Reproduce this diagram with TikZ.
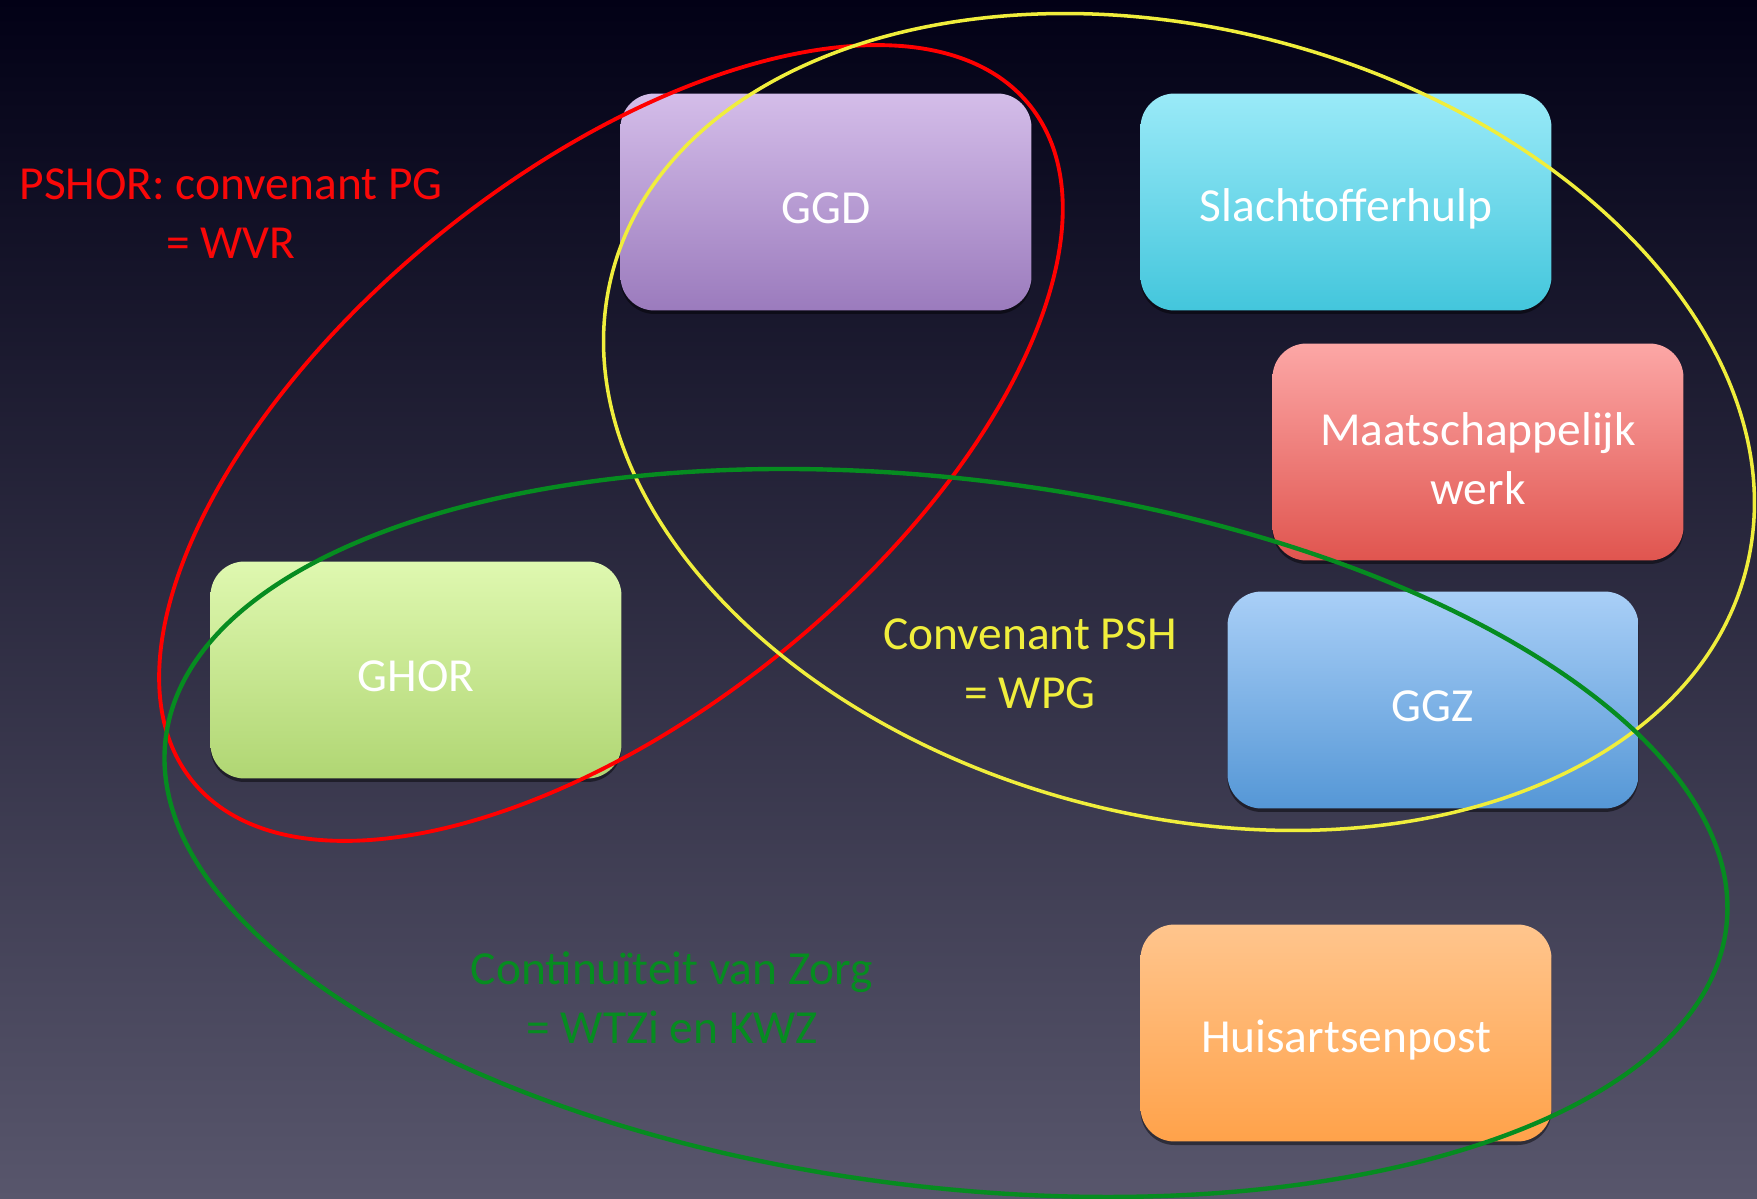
\documentclass[tikz,border=0pt]{standalone}
\usepackage{fontspec}
\setmainfont{Carlito}
\usetikzlibrary{shadows}
\definecolor{bgTop}{RGB}{2,1,22}
\definecolor{bgBottom}{RGB}{88,86,108}
\definecolor{pshorRed}{RGB}{250,8,8}
\definecolor{pshYellow}{RGB}{240,238,60}
\definecolor{zorgGreen}{RGB}{6,140,32}
\definecolor{ggdTop}{RGB}{212,189,233}
\definecolor{ggdBottom}{RGB}{155,123,189}
\definecolor{slachtTop}{RGB}{154,234,248}
\definecolor{slachtBottom}{RGB}{67,198,220}
\definecolor{maatTop}{RGB}{252,167,166}
\definecolor{maatBottom}{RGB}{224,85,79}
\definecolor{ggzTop}{RGB}{169,207,247}
\definecolor{ggzBottom}{RGB}{85,151,214}
\definecolor{ghorTop}{RGB}{223,248,176}
\definecolor{ghorBottom}{RGB}{176,214,115}
\definecolor{hapTop}{RGB}{255,197,141}
\definecolor{hapBottom}{RGB}{255,162,74}
\newcommand{\slideFont}{\fontsize{27}{33.5}\selectfont}
\tikzstyle{orgBox} = [shape=rectangle, rounded corners=0.68cm, 
	minimum width=8.22cm, minimum height=4.34cm,
	drop shadow={shadow xshift=0pt, shadow yshift=-2pt, opacity=0.45, fill=black}]
\tikzstyle{boxText} = [text=white, align=center, font=\slideFont, yshift=-3.8pt]
\tikzstyle{ringLabel} = [align=center, font=\slideFont]
\tikzstyle{ring} = [line width=2.2pt]

\begin{document}
\begin{tikzpicture}[x=0.02cm, y=-0.02cm]
  \shade[top color=bgTop, bottom color=bgBottom] (0,0) rectangle (1757,1199);
  \useasboundingbox (0,0) rectangle (1757,1199);

  \node[orgBox, top color=ggdTop, bottom color=ggdBottom,
  	label={[boxText]center:GGD}] (ggd) at (826,202) {};
  \node[orgBox, top color=slachtTop, bottom color=slachtBottom,
  	label={[boxText]center:Slachtofferhulp}] (slachtoffer) at (1346,202) {};
  \node[orgBox, top color=maatTop, bottom color=maatBottom,
  	label={[boxText]center:Maatschappelijk\\werk}] (maatschappelijk) at (1478,452) {};
  \node[orgBox, top color=ggzTop, bottom color=ggzBottom,
  	label={[boxText]center:GGZ}] (ggz) at (1433,700) {};
  \node[orgBox, top color=ghorTop, bottom color=ghorBottom,
  	label={[boxText]center:GHOR}] (ghor) at (416,670) {};
  \node[orgBox, top color=hapTop, bottom color=hapBottom,
  	label={[boxText]center:Huisartsenpost}] (huisarts) at (1346,1033) {};

  \coordinate (redMid) at (611,443);
  \coordinate (yellowMid) at (1179,422);
  \coordinate (greenMid) at (946,833);
  \draw[ring, red, rotate around={38.9:(redMid)}] (redMid) ellipse [x radius=538, y radius=270];
  \draw[ring, pshYellow, line width=2pt, rotate around={-14.8:(yellowMid)}] (yellowMid) ellipse [x radius=586, y radius=393];
  \draw[ring, zorgGreen, line width=2.5pt, rotate around={-6.9:(greenMid)}] (greenMid) ellipse [x radius=786, y radius=354];

  \node[ringLabel, text=pshorRed] (pshor) at (231,214) {PSHOR: convenant PG\\= WVR};
  \node[ringLabel, text=pshYellow] (psh) at (1030,664) {Convenant PSH\\= WPG};
  \node[ringLabel, text=zorgGreen] (zorg) at (672,998) {Continuïteit van Zorg\\= WTZi en KWZ};
\end{tikzpicture}
\end{document}
